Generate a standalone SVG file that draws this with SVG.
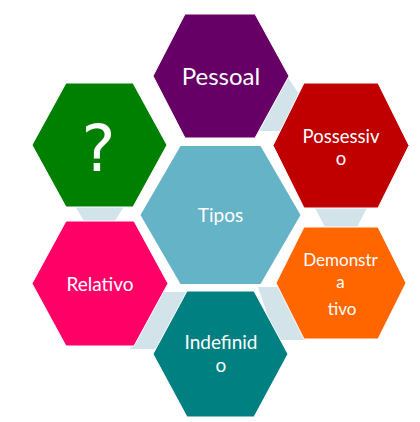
<svg xmlns="http://www.w3.org/2000/svg" width="420" height="422" viewBox="0 0 420 422">
  <style>
    .conn { fill: #d2e3e9; }
    .hex { stroke: #ffffff; stroke-width: 1; }
    .lbl { font-family: Lato, "Open Sans", "Noto Sans", sans-serif; fill: #ffffff; text-anchor: middle; }
  </style>
  <rect x="0" y="0" width="420" height="422" fill="#ffffff"/>
  <g id="connectors">
    <polygon class="conn" points="280,66 303,100 290,131 252,131"/>
    <polygon class="conn" points="313,204 369,204 356,229 326,229"/>
    <polygon class="conn" points="258,287 285,287 306,340 276,340"/>
    <polygon class="conn" points="156,292 192,292 160,349 130,349"/>
    <polygon class="conn" points="73,203 126,203 113,224 86,224"/>
  </g>
  <g id="node-tipos">
    <polygon fill="#65b3c6" points="140.5,215 180.5,146 260.5,146 300.5,215 260.5,284 180.5,284"/>
    <text class="lbl" x="220.5" y="222" font-size="19">Tipos</text>
  </g>
  <g id="node-pessoal">
    <polygon class="hex" fill="#660066" points="153,76 185,14 255,14 289,76 255,138 185,138"/>
    <text class="lbl" x="221" y="85" font-size="24">Pessoal</text>
  </g>
  <g id="node-possessivo">
    <polygon class="hex" fill="#c00000" points="273,145.5 304,83 378,83 409,145.5 378,208 304,208"/>
    <text class="lbl" x="341" y="143" font-size="18.5">Possessiv</text>
    <text class="lbl" x="341" y="165" font-size="18.5">o</text>
  </g>
  <g id="node-demonstrativo">
    <polygon class="hex" fill="#ff6600" points="276,283 304,227 378,227 406,283 378,339 304,339"/>
    <text class="lbl" x="340.5" y="266" font-size="17">Demonstr</text>
    <text class="lbl" x="340.5" y="287.5" font-size="17">a</text>
    <text class="lbl" x="342" y="314.5" font-size="17">tivo</text>
  </g>
  <g id="node-indefinido">
    <polygon class="hex" fill="#008080" points="153,354 187,291 254,291 288,354 254,417 187,417"/>
    <text class="lbl" x="221" y="348.5" font-size="19">Indefinid</text>
    <text class="lbl" x="221" y="372" font-size="19">o</text>
  </g>
  <g id="node-relativo">
    <polygon class="hex" fill="#ff0066" points="32,283.5 66,221 134,221 168,283.5 134,346 66,346"/>
    <text class="lbl" x="100" y="291" font-size="19">Relativo</text>
  </g>
  <g id="node-question">
    <polygon class="hex" fill="#008000" points="32,145 66,83 133,83 167,145 133,207 66,207"/>
    <text x="98.5" y="171" font-size="64" fill="#ffffff" text-anchor="middle" font-family="'DejaVu Sans', sans-serif">?</text>
  </g>
</svg>
